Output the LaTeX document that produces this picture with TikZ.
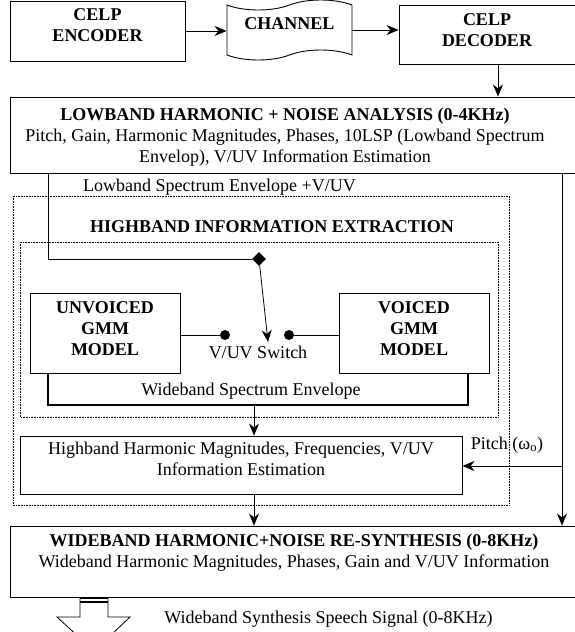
\documentclass[tikz,border=0pt]{standalone}
\usepackage{fontspec}
\setmainfont{Liberation Serif}
\usetikzlibrary{arrows.meta,shapes.symbols,shapes.geometric}

\tikzset{
  box/.style={draw, line width=0.9pt, inner sep=0pt},
  head/.style={font=\fontsize{18}{21}\selectfont\bfseries, align=center, inner sep=0pt},
  txt/.style={font=\fontsize{18}{21}\selectfont, align=center, inner sep=0pt},
  dotbox/.style={densely dotted, line width=0.6pt},
  dot/.style={circle, fill, inner sep=0pt, minimum size=10pt},
  bracket/.style={line width=1.6pt},
}

\begin{document}
\begin{tikzpicture}[x=1pt, y=-1pt, line width=0.8pt, >={Stealth[length=12pt,width=10pt]}]
\useasboundingbox (0,0) rectangle (574,632);

% CELP chain
\node[box, minimum width=175, minimum height=60] (enc) at (97.5,31) {};
\node[head] (enctxt) at (97.5,25.5) {CELP\\ENCODER};
\node[draw, tape, line width=0.9pt, minimum width=125, minimum height=60, tape bend height=10] (chan) at (289.5,30) {};
\node[head] (chantxt) at (289.5,23.5) {CHANNEL};
\node[box, minimum width=178, minimum height=59] (dec) at (488,34.5) {};
\node[head] (dectxt) at (487,30.5) {CELP\\DECODER};

\draw[->] (enc) -- (enc -| chan.west);
\draw[->] (chan.east) -- (chan.east -| dec.west);

\node[box, minimum width=568, minimum height=76] (low) at (294,135) {};
\node[txt] (lowtxt) at (285,137) {\textbf{LOWBAND HARMONIC + NOISE ANALYSIS (0-4KHz)}\\Pitch, Gain, Harmonic Magnitudes, Phases, 10LSP (Lowband Spectrum\\Envelop), V/UV Information Estimation};
\coordinate (d1) at ([xshift=10pt]dec.south);
\draw[->] (d1) -- (d1 |- low.north);

% highband part
\draw[dotbox] (13,196) rectangle (509,505);
\draw[dotbox] (20,242) rectangle (498,417);
\node[head] (hbtitle) at (272,227) {HIGHBAND INFORMATION EXTRACTION};
\node[txt] (lowlbl) at (219.5,187) {Lowband Spectrum Envelope +V/UV};

\node[box, minimum width=150, minimum height=80] (unv) at (105,333) {};
\node[head] (unvtxt) at (105,328.5) {UNVOICED\\GMM\\MODEL};
\node[box, minimum width=150, minimum height=80] (voi) at (414,333) {};
\node[head] (voitxt) at (414,328.5) {VOICED\\GMM\\MODEL};

\node[diamond, fill, inner sep=0pt, minimum size=14pt] (piv) at (259,259) {};
\coordinate (lt) at (48,259);
\draw (lt |- low.south) -- (lt) -- (piv);
\coordinate (swtip) at (268,342);
\draw[->] (piv) -- (swtip);
\node[dot] (dl) at (225,335) {};
\node[dot] (dr) at (289,335) {};
\draw (unv.east |- dl) -- (dl);
\draw (voi.west |- dr) -- (dr);
\node[txt] (swlbl) at (258,352) {V/UV Switch};

\coordinate (bl) at (48,405);
\coordinate (br) at (468,405);
\draw[bracket] (bl |- unv.south) -- (bl) -- (br) -- (br |- voi.south);
\node[txt] (wsenv) at (251,391) {Wideband Spectrum Envelope};

\node[box, minimum width=442, minimum height=58] (hb) at (241,465) {};
\node[txt] (hbtxt) at (241,459) {Highband Harmonic Magnitudes, Frequencies, V/UV\\Information Estimation};
\coordinate (bm) at (254,405);
\draw[->] (bm) -- (bm |- hb.north);

% re-synthesis
\node[box, minimum width=568, minimum height=71] (wide) at (294,561.5) {};
\node[txt] (widetxt) at (294,553) {\textbf{WIDEBAND HARMONIC+NOISE RE-SYNTHESIS (0-8KHz)}\\Wideband Harmonic Magnitudes, Phases, Gain and V/UV Information};
\draw[->] (bm |- hb.south) -- (bm |- wide.north);

\coordinate (rt) at (562,466);
\draw[->] (rt |- low.south) -- (rt |- wide.north);
\draw[->] (rt) -- (rt -| hb.east);
\node[txt] (pitch) at (507,445) {Pitch (ω\textsubscript{o})};

% output arrow
\draw[fill=white] (80,597) -- (80,617) -- (57,617) -- (94,651) -- (130,617) -- (108,617) -- (108,597);
\draw[line width=1.5pt] (80,598) -- (108,598) (80,602) -- (108,602);
\node[txt] (sig) at (328.5,619) {Wideband Synthesis Speech Signal (0-8KHz)};
\end{tikzpicture}
\end{document}
